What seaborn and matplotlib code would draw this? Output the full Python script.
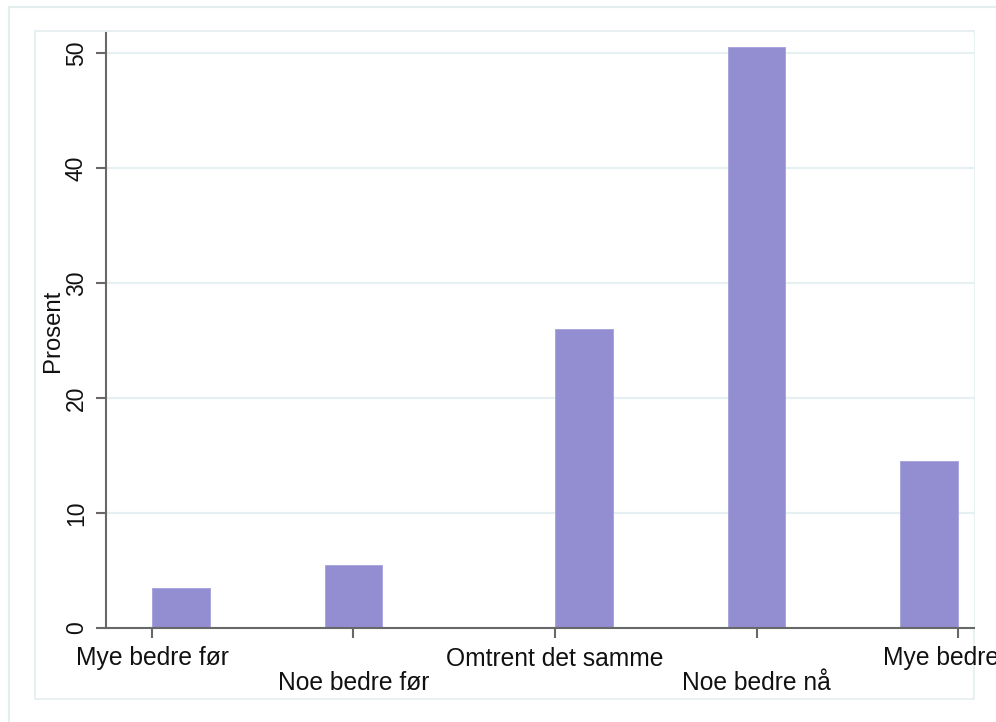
import numpy as np
import pandas as pd
import matplotlib
matplotlib.use("Agg")
import matplotlib.pyplot as plt
from matplotlib.patches import Rectangle
from matplotlib.lines import Line2D
import seaborn as sns

# response categories (coded 1-5) and share of respondents in percent
kategorier = ["Mye bedre før", "Noe bedre før", "Omtrent det samme", "Noe bedre nå", "Mye bedre nå"]
koder = [1, 2, 3, 4, 5]
prosent = [3.5, 5.5, 26.0, 50.5, 14.5]
y_ticks = [0, 10, 20, 30, 40, 50]

df = pd.DataFrame({"kode": koder, "prosent": prosent})

sns.set_theme(style="white")
plt.rcParams['font.family'] = ['Liberation Sans', 'DejaVu Sans']

BAR = '#938dd2'
AXIS = '#686868'
GRID = '#e6eff1'
FRAME = '#e4eeef'

fig = plt.figure(figsize=(9.96, 7.22), dpi=100)
W, H = 996, 722
ax = fig.add_axes([106 / W, 1 - 628 / H, (974 - 106) / W, (628 - 33) / H])

# Stata-style histogram: 14 bins between 1 and 5, weighted by percent
sns.histplot(data=df, x='kode', weights='prosent', bins=14, binrange=(1, 5),
             color=BAR, alpha=1, edgecolor='#a49fdb', linewidth=0.6, ax=ax)

ax.set_xlim(0.772, 5.079)
ax.set_ylim(0, 51.74)
ax.set_yticks(y_ticks)
ax.set_yticklabels([str(t) for t in y_ticks], rotation=90, va='center', fontsize=16.5)
ax.set_xticks(koder)
ax.set_xticklabels(kategorier, fontsize=17.7, va='baseline')
# alternate the category labels on two rows, as Stata does
for i, tick in enumerate(ax.xaxis.get_major_ticks()):
    tick.set_pad(20 if i % 2 == 0 else 38)

ax.yaxis.grid(True, color=GRID, linewidth=1.6)
ax.set_axisbelow(True)
ax.set_xlabel('')
ax.set_ylabel('Prosent', fontsize=17.2, labelpad=1, color='#111111')

for s in ['top', 'right']:
    ax.spines[s].set_visible(False)
for s in ['left', 'bottom']:
    ax.spines[s].set_color(AXIS)
    ax.spines[s].set_linewidth(1.5)
ax.tick_params(axis='both', direction='out', length=7, width=1.5, color=AXIS,
               labelcolor='#111111', left=True, bottom=True)
ax.tick_params(axis='y', pad=6)

# light outer frames like the Stata graph region
fig.patches.append(Rectangle((35 / W, 1 - 699 / H), (974 - 35) / W, (699 - 31) / H,
                             transform=fig.transFigure, fill=False, edgecolor=FRAME,
                             linewidth=1.2, zorder=-1))
fig.lines.append(Line2D([9 / W, 9 / W], [0, 1 - 7 / H], transform=fig.transFigure,
                        color=FRAME, linewidth=1.6))
fig.lines.append(Line2D([9 / W, 1], [1 - 7 / H, 1 - 7 / H], transform=fig.transFigure,
                        color=FRAME, linewidth=1.6))

fig.savefig("out.png", dpi=100)
plt.close(fig)
